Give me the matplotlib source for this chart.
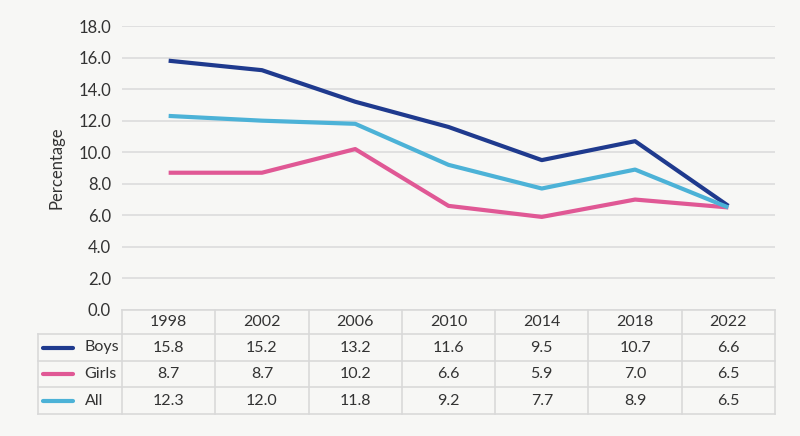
import matplotlib
matplotlib.use("Agg")
import matplotlib.pyplot as plt
import numpy as np

years = ["1998", "2002", "2006", "2010", "2014", "2018", "2022"]
series_names = ["Boys", "Girls", "All"]
boys = [15.8, 15.2, 13.2, 11.6, 9.5, 10.7, 6.6]
girls = [8.7, 8.7, 10.2, 6.6, 5.9, 7.0, 6.5]
all_pupils = [12.3, 12.0, 11.8, 9.2, 7.7, 8.9, 6.5]
yticks = [0, 2, 4, 6, 8, 10, 12, 14, 16, 18]

colors = ["#1f3a8e", "#e05895", "#4cb2d7"]
bg = "#f7f7f5"
grid_c = "#dcdcdc"
text_c = "#333333"

plt.rcParams["font.family"] = ["Lato", "DejaVu Sans"]

W, H = 800, 436
fig = plt.figure(figsize=(W / 100, H / 100), dpi=100, facecolor=bg)

# main plot area, pixel box 122..775 x 26..310
ax = fig.add_axes([122 / W, 1 - 310 / H, (775 - 122) / W, (310 - 26) / H])
ax.set_facecolor(bg)
x = np.arange(len(years))
for vals, c in zip([boys, girls, all_pupils], colors):
    ax.plot(x, vals, color=c, linewidth=3, solid_capstyle="butt", zorder=3)

ax.set_xlim(-0.5, len(years) - 0.5)
ax.set_ylim(0, 18)
ax.set_yticks(yticks)
ax.set_yticklabels([f"{v:.1f}" for v in yticks], fontsize=12, color=text_c)
ax.set_xticks([])
ax.tick_params(axis="y", length=0, pad=8)
for s in ax.spines.values():
    s.set_visible(False)
ax.grid(axis="y", color=grid_c, linewidth=1.2)
ax.set_axisbelow(True)
ax.set_ylabel("Percentage", fontsize=12, color=text_c, labelpad=10)

# data table underneath, pixel box 38..775 x 310..414
tax = fig.add_axes([38 / W, 1 - 414 / H, (775 - 38) / W, (414 - 310) / H])
tax.set_facecolor(bg)
tax.axis("off")
label_w = 84 / ((775 - 122) / len(years))
x0 = -0.5 - label_w
x1 = len(years) - 0.5
tax.set_xlim(x0, x1)
tax.set_ylim(0, 104)
# row edges in pixels from bottom
edges = [0, 27, 53, 80, 104]
bc = "#d9d9d9"
lw = 1.2
tax.plot([-0.5, x1], [104, 104], color=bc, lw=lw, clip_on=False)
for e in edges[:4]:
    tax.plot([x0, x1], [e, e], color=bc, lw=lw, clip_on=False)
tax.plot([x0, x0], [0, 80], color=bc, lw=lw, clip_on=False)
for i in range(len(years) + 1):
    tax.plot([i - 0.5, i - 0.5], [0, 104], color=bc, lw=lw, clip_on=False)

for i, yr in enumerate(years):
    tax.text(i, 92, yr, ha="center", va="center", fontsize=11.5, color=text_c)

rows = [boys, girls, all_pupils]
for r, (name, vals, c) in enumerate(zip(series_names, rows, colors)):
    yc = (edges[3 - r] + edges[2 - r]) / 2
    tax.plot([x0 + 0.05, x0 + 0.38], [yc, yc], color=c, lw=3,
             solid_capstyle="round")
    tax.text(x0 + 0.5, yc, name, ha="left", va="center", fontsize=11.5,
             color=text_c)
    for i, v in enumerate(vals):
        tax.text(i, yc, f"{v:.1f}", ha="center", va="center", fontsize=11.5,
                 color=text_c)

fig.savefig("out.png", dpi=100, facecolor=bg)
